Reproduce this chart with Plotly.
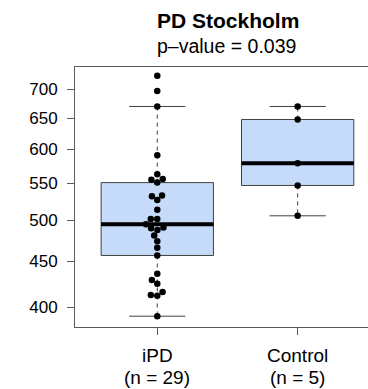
import numpy as np
import plotly.graph_objects as go

# ---------------- data ----------------
title_text = "PD Stockholm"
subtitle_text = "p\u2013value = 0.039"
categories = ["iPD", "Control"]
count_labels = ["(n = 29)", "(n = 5)"]
ipd_values = [725, 697, 670, 591, 563, 556, 551, 555, 533, 532, 527, 514, 502, 502,
              491, 488, 490, 495, 481, 474, 466, 457, 436, 429, 425, 416, 412, 413, 391]
control_values = [670, 648, 579, 547, 506]
y_tick_values = [400, 450, 500, 550, 600, 650, 700]

# ---------------- layout geometry ----------------
W, H = 368, 389
ML, MR, MT, MB = 75, 0, 66.5, 61.5
plot_w = W - ML - MR
plot_h = H - MT - MB
x_range = [0.414, 2.501]
y_range_vals = [380.3, 741.5]
lo, hi = np.log10(y_range_vals)

box_fill = "#C6DBF9"
box_line = "#404040"
frame_col = "#5a5a5a"
font_family = "Liberation Sans, Arial, Helvetica, sans-serif"


def fivenum(v):
    s = np.sort(np.asarray(v, float))
    n = len(s)
    n4 = np.floor((n + 3) / 2) / 2
    d = np.array([1, n4, (n + 1) / 2, n + 1 - n4, n]) - 1
    return 0.5 * (s[np.floor(d).astype(int)] + s[np.ceil(d).astype(int)])


def box_stats(v, coef=1.5):
    f = fivenum(v)
    iqr = f[3] - f[1]
    a = np.asarray(v, float)
    inside = a[(a >= f[1] - coef * iqr) & (a <= f[3] + coef * iqr)]
    return inside.min(), f[1], f[2], f[3], inside.max()


x_px_per_unit = plot_w / (x_range[1] - x_range[0])


def y_px(v):
    return (np.log10(v) - lo) / (hi - lo) * plot_h


def swarm_offsets(values, d=6.5):
    vals = np.asarray(values, float)
    ys = y_px(vals)
    order = np.argsort(vals, kind="stable")
    xs = np.zeros(len(vals))
    placed = []
    for i in order:
        y = ys[i]
        cands = [0.0]
        for px, py in placed:
            dy = abs(py - y)
            if dy < d:
                dx = np.sqrt(d * d - dy * dy)
                cands += [px - dx, px + dx]
        cands.sort(key=lambda c: (abs(c), c))
        for c in cands:
            if all((c - px) ** 2 + (y - py) ** 2 >= d * d - 1e-6 for px, py in placed):
                xs[i] = c
                break
        placed.append((xs[i], y))
    return xs / x_px_per_unit


fig = go.Figure()
groups = [ipd_values, control_values]
half_box = 0.4
half_cap = 0.2

for gi, vals in enumerate(groups):
    c = gi + 1
    lw, q1, med, q3, uw = box_stats(vals)
    # box
    fig.add_trace(go.Scatter(
        x=[c - half_box, c + half_box, c + half_box, c - half_box, c - half_box],
        y=[q1, q1, q3, q3, q1], mode="lines", fill="toself", fillcolor=box_fill,
        line=dict(color=box_line, width=1), hoverinfo="skip", showlegend=False))
    # whiskers (dashed)
    fig.add_trace(go.Scatter(
        x=[c, c, None, c, c], y=[q3, uw, None, q1, lw], mode="lines",
        line=dict(color=box_line, width=1, dash="4px,4px"),
        hoverinfo="skip", showlegend=False))
    # staples
    fig.add_trace(go.Scatter(
        x=[c - half_cap, c + half_cap, None, c - half_cap, c + half_cap],
        y=[uw, uw, None, lw, lw], mode="lines",
        line=dict(color=box_line, width=1), hoverinfo="skip", showlegend=False))
    # median
    fig.add_trace(go.Scatter(
        x=[c - half_box, c + half_box], y=[med, med], mode="lines",
        line=dict(color="black", width=4), hoverinfo="skip", showlegend=False))

for gi, vals in enumerate(groups):
    c = gi + 1
    offs = swarm_offsets(vals)
    fig.add_trace(go.Scatter(
        x=c + offs, y=vals, mode="markers",
        marker=dict(color="black", size=6.5, line=dict(width=0)),
        showlegend=False, name=categories[gi]))

annotations = [
    dict(text="<b>" + title_text + "</b>", x=(227.5 - ML) / plot_w, xref="paper",
         y=(H - MB - 20) / plot_h, yref="paper", xanchor="center", yanchor="middle",
         showarrow=False, font=dict(size=21, color="black", family=font_family)),
    dict(text=subtitle_text, x=(226.5 - ML) / plot_w, xref="paper",
         y=(H - MB - 45.5) / plot_h, yref="paper", xanchor="center", yanchor="middle",
         showarrow=False, font=dict(size=19.5, color="black", family=font_family)),
]
for gi, (cat, cnt) in enumerate(zip(categories, count_labels)):
    annotations.append(dict(text=cat, x=gi + 1, xref="x", y=(H - MB - 356.3) / plot_h,
                            yref="paper", xanchor="center", yanchor="middle", showarrow=False,
                            font=dict(size=19, color="black", family=font_family)))
    annotations.append(dict(text=cnt, x=gi + 1, xref="x", y=(H - MB - 378.5) / plot_h,
                            yref="paper", xanchor="center", yanchor="middle", showarrow=False,
                            font=dict(size=19, color="black", family=font_family)))

fig.update_layout(
    width=W, height=H,
    margin=dict(l=ML, r=MR, t=MT, b=MB, pad=0),
    paper_bgcolor="white", plot_bgcolor="white",
    font=dict(family=font_family, color="black"),
    annotations=annotations,
    xaxis=dict(range=x_range, tickvals=[1, 2], showticklabels=False,
               ticks="outside", ticklen=7, tickcolor=frame_col, tickwidth=1,
               showline=True, linecolor=frame_col, linewidth=1, mirror=True,
               showgrid=False, zeroline=False, fixedrange=True),
    yaxis=dict(type="log", range=[lo, hi], tickvals=y_tick_values,
               ticktext=[str(v) for v in y_tick_values],
               ticks="outside", ticklen=7, tickcolor=frame_col, tickwidth=1,
               tickfont=dict(size=17, color="black", family=font_family),
               ticklabelstandoff=6,
               showline=True, linecolor=frame_col, linewidth=1, mirror=False,
               showgrid=False, zeroline=False, fixedrange=True),
)

fig.write_html("out.html", config={"displayModeBar": False})
